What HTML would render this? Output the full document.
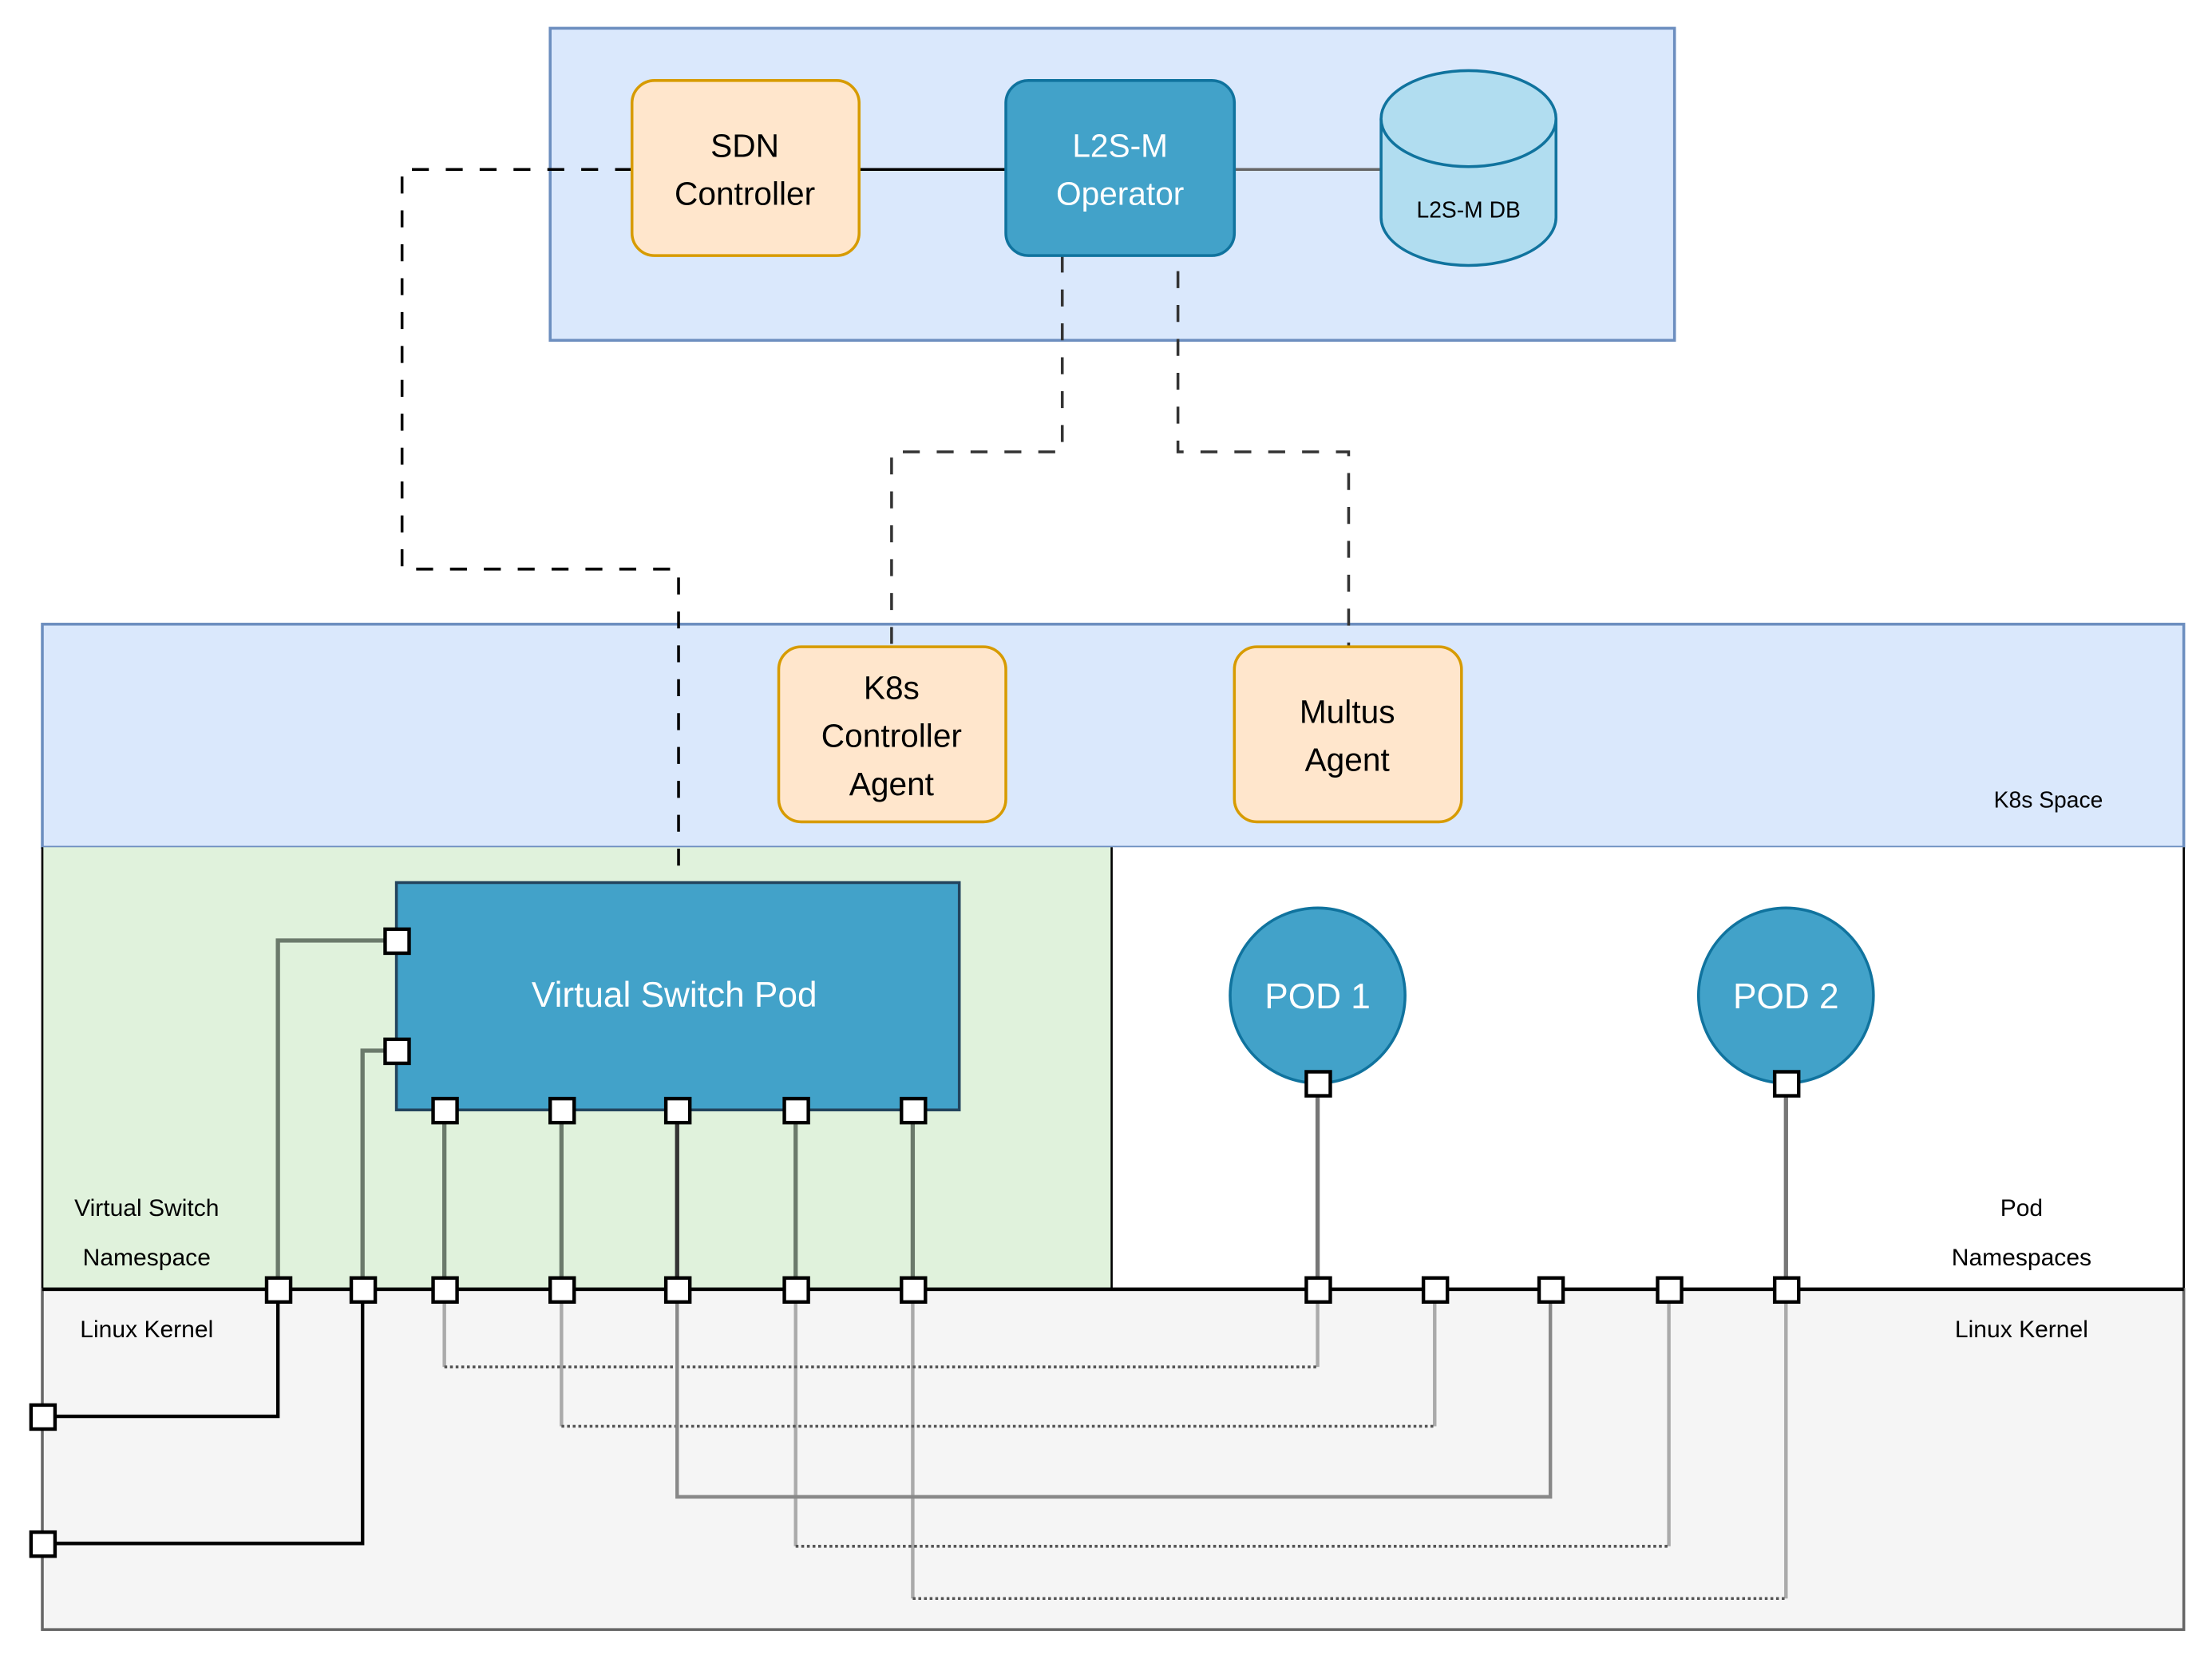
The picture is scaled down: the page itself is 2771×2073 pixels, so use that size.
<!DOCTYPE html>
<html><head><meta charset="utf-8"><style>
html,body{margin:0;padding:0;background:#fff;}
svg{display:block;}
text{font-family:"Liberation Sans",Arial,sans-serif;}
</style></head><body>
<svg width="2771" height="2073" viewBox="0 0 1568 1172" preserveAspectRatio="none" xmlns="http://www.w3.org/2000/svg">
<rect x="390" y="20" width="797" height="221" fill="#dae8fc" stroke="#6c8ebf" stroke-width="2"/>
<rect x="30" y="442" width="1518" height="158" fill="#dae8fc" stroke="#6c8ebf" stroke-width="2"/>
<rect x="30" y="600" width="758" height="313" fill="#e0f2dc" stroke="none"/>
<rect x="788" y="600" width="760" height="313" fill="#fff" stroke="none"/>
<line x1="788" y1="600" x2="788" y2="913" stroke="#000" stroke-width="1.5"/>
<line x1="1548" y1="600" x2="1548" y2="913" stroke="#000" stroke-width="1.5"/>
<line x1="30" y1="600" x2="30" y2="913" stroke="#000" stroke-width="1.5"/>
<rect x="30" y="913" width="1518" height="241" fill="#f5f5f5" stroke="#666" stroke-width="2"/>
<line x1="30" y1="913" x2="1548" y2="913" stroke="#000" stroke-width="2.5"/>

<line x1="609" y1="120" x2="713" y2="120" stroke="#000" stroke-width="2"/>
<line x1="875" y1="120" x2="979" y2="120" stroke="#666" stroke-width="2"/>

<polyline points="448,120 285,120 285,403 481,403 481,625" fill="none" stroke="#000" stroke-width="2" stroke-dasharray="12,12"/>
<polyline points="753,181 753,320 632,320 632,458" fill="none" stroke="#333" stroke-width="2" stroke-dasharray="12,12"/>
<polyline points="835,192 835,320 956,320 956,458" fill="none" stroke="#333" stroke-width="2" stroke-dasharray="12,12"/>

<rect x="448" y="57" width="161" height="124" rx="16" fill="#ffe6cc" stroke="#d79b00" stroke-width="2"/>
<text x="528" y="111" font-size="23" text-anchor="middle" fill="#000">SDN</text>
<text x="528" y="145" font-size="23" text-anchor="middle" fill="#000">Controller</text>
<rect x="713" y="57" width="162" height="124" rx="16" fill="#42a2c9" stroke="#10739e" stroke-width="2"/>
<text x="794" y="111" font-size="23" text-anchor="middle" fill="#fff">L2S-M</text>
<text x="794" y="145" font-size="23" text-anchor="middle" fill="#fff">Operator</text>
<path d="M979,84 L979,154 A62,34 0 0 0 1103,154 L1103,84" fill="#b1ddf0" stroke="#10739e" stroke-width="2"/>
<ellipse cx="1041" cy="84" rx="62" ry="34" fill="#b1ddf0" stroke="#10739e" stroke-width="2"/>
<text x="1041" y="154" font-size="16" text-anchor="middle" fill="#000">L2S-M DB</text>

<rect x="552" y="458" width="161" height="124" rx="16" fill="#ffe6cc" stroke="#d79b00" stroke-width="2"/>
<text x="632" y="495" font-size="23" text-anchor="middle">K8s</text>
<text x="632" y="529" font-size="23" text-anchor="middle">Controller</text>
<text x="632" y="563" font-size="23" text-anchor="middle">Agent</text>
<rect x="875" y="458" width="161" height="124" rx="16" fill="#ffe6cc" stroke="#d79b00" stroke-width="2"/>
<text x="955" y="512" font-size="23" text-anchor="middle">Multus</text>
<text x="955" y="546" font-size="23" text-anchor="middle">Agent</text>
<text x="1452" y="572" font-size="16" text-anchor="middle">K8s Space</text>

<text x="104" y="861" font-size="17" text-anchor="middle">Virtual Switch</text>
<text x="104" y="896" font-size="17" text-anchor="middle">Namespace</text>
<text x="104" y="947" font-size="17" text-anchor="middle">Linux Kernel</text>
<text x="1433" y="861" font-size="17" text-anchor="middle">Pod</text>
<text x="1433" y="896" font-size="17" text-anchor="middle">Namespaces</text>
<text x="1433" y="947" font-size="17" text-anchor="middle">Linux Kernel</text>

<g fill="none" stroke="#aaa" stroke-width="2.5">
<polyline points="315,913 315,968"/><polyline points="934,913 934,968"/>
<polyline points="398,913 398,1010"/><polyline points="1017,913 1017,1010"/>
<polyline points="564,913 564,1095"/><polyline points="1183,913 1183,1095"/>
<polyline points="647,913 647,1132"/><polyline points="1266,913 1266,1132"/>
</g>
<g fill="none" stroke="#555" stroke-width="2" stroke-dasharray="2,2">
<line x1="315" y1="968" x2="934" y2="968"/>
<line x1="398" y1="1010" x2="1017" y2="1010"/>
<line x1="564" y1="1095" x2="1183" y2="1095"/>
<line x1="647" y1="1132" x2="1266" y2="1132"/>
</g>
<polyline points="480,913 480,1060 1099,1060 1099,913" fill="none" stroke="#888" stroke-width="2.5"/>

<polyline points="281,666 197,666 197,913" fill="none" stroke="#6b7a6b" stroke-width="3"/>
<polyline points="281,744 257,744 257,913" fill="none" stroke="#6b7a6b" stroke-width="3"/>
<polyline points="197,913 197,1003 30,1003" fill="none" stroke="#000" stroke-width="2.5"/>
<polyline points="257,913 257,1093 30,1093" fill="none" stroke="#000" stroke-width="2.5"/>

<g stroke="#6b7a6b" stroke-width="3">
<line x1="315" y1="786" x2="315" y2="913"/>
<line x1="398" y1="786" x2="398" y2="913"/>
<line x1="480" y1="786" x2="480" y2="913" stroke="#333"/>
<line x1="564" y1="786" x2="564" y2="913"/>
<line x1="647" y1="786" x2="647" y2="913"/>
</g>
<line x1="934" y1="767" x2="934" y2="913" stroke="#777" stroke-width="3"/>
<line x1="1266" y1="767" x2="1266" y2="913" stroke="#777" stroke-width="3"/>

<rect x="281" y="625" width="399" height="161" fill="#42a2c9" stroke="#23445d" stroke-width="2"/>
<text x="478" y="713" font-size="25" text-anchor="middle" fill="#fff">Virtual Switch Pod</text>

<circle cx="934" cy="705" r="62" fill="#42a2c9" stroke="#10739e" stroke-width="2"/>
<text x="934" y="714" font-size="25" text-anchor="middle" fill="#fff">POD 1</text>
<circle cx="1266" cy="705" r="62" fill="#42a2c9" stroke="#10739e" stroke-width="2"/>
<text x="1266" y="714" font-size="25" text-anchor="middle" fill="#fff">POD 2</text>

<g fill="#fff" stroke="#000" stroke-width="2.5">
<rect x="273" y="658" width="17" height="17"/>
<rect x="273" y="736" width="17" height="17"/>
<rect x="307" y="778" width="17" height="17"/>
<rect x="390" y="778" width="17" height="17"/>
<rect x="472" y="778" width="17" height="17"/>
<rect x="556" y="778" width="17" height="17"/>
<rect x="639" y="778" width="17" height="17"/>
<rect x="926" y="759" width="17" height="17"/>
<rect x="1258" y="759" width="17" height="17"/>
<rect x="189" y="905" width="17" height="17"/>
<rect x="249" y="905" width="17" height="17"/>
<rect x="307" y="905" width="17" height="17"/>
<rect x="390" y="905" width="17" height="17"/>
<rect x="472" y="905" width="17" height="17"/>
<rect x="556" y="905" width="17" height="17"/>
<rect x="639" y="905" width="17" height="17"/>
<rect x="926" y="905" width="17" height="17"/>
<rect x="1009" y="905" width="17" height="17"/>
<rect x="1091" y="905" width="17" height="17"/>
<rect x="1175" y="905" width="17" height="17"/>
<rect x="1258" y="905" width="17" height="17"/>
<rect x="22" y="995" width="17" height="17"/>
<rect x="22" y="1085" width="17" height="17"/>
</g>
</svg>
</body></html>
